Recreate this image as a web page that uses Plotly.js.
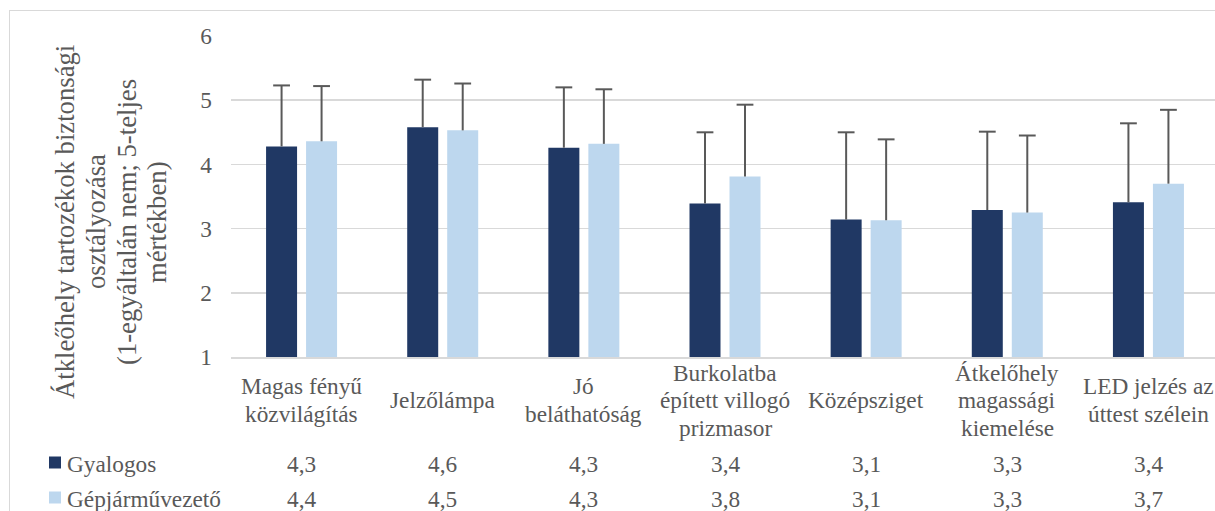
<!DOCTYPE html>
<html>
<head>
<meta charset="utf-8">
<script src="https://cdn.plot.ly/plotly-3.0.1.min.js"></script>
<style>
  html, body { margin: 0; padding: 0; overflow: hidden; background: #ffffff; }
  #chart { position: absolute; left: 0; top: 0; width: 1225px; height: 511px; }
  #frame { position: absolute; left: 9px; top: 10px; width: 3000px; height: 3000px;
           border-left: 1px solid #d9d9d9; border-top: 1px solid #d9d9d9; pointer-events: none; }
</style>
</head>
<body>
<div id="chart"></div>
<div id="frame"></div>
<script>
// ---- data ----
const categories = [
  'Magas fényű<br>közvilágítás',
  'Jelzőlámpa',
  'Jó<br>beláthatóság',
  'Burkolatba<br>épített villogó<br>prizmasor',
  'Középsziget',
  'Átkelőhely<br>magassági<br>kiemelése',
  'LED jelzés az<br>úttest szélein'
];
const seriesNames = ['Gyalogos', 'Gépjárművezető'];
const gyalogos    = [4.28, 4.58, 4.26, 3.39, 3.14, 3.29, 3.41];
const gepjarmu    = [4.36, 4.53, 4.32, 3.81, 3.13, 3.25, 3.70];
const gyalogosErr = [0.95, 0.74, 0.94, 1.11, 1.36, 1.22, 1.23];
const gepjarmuErr = [0.86, 0.73, 0.85, 1.12, 1.26, 1.20, 1.15];
const seriesColors = ['#203864', '#BDD7EE'];
const yTicks = [1, 2, 3, 4, 5, 6];
const yTitleLines = [
  'Átkleőhely tartozékok biztonsági',
  'osztályozása',
  '(1-egyáltalán nem; 5-teljes',
  'mértékben)'
];

// ---- layout helpers (pixel geometry) ----
const FIG_W = 1225, FIG_H = 511;
const M = { l: 231, r: 6, t: 36, b: 154 };
const PW = FIG_W - M.l - M.r, PH = FIG_H - M.t - M.b;
const px2x = px => (px - M.l) / PW;
const py2y = py => (M.t + PH - py) / PH;
const FONT = '"Liberation Serif", "Times New Roman", serif';
const TXT = '#595959';
const CAT_PX = PW / categories.length;      // pixels per category
const BAR_W = 31 / CAT_PX;                   // bar width in category units
const SHIFT = [-20 / CAT_PX, 20 / CAT_PX];   // bar centre offsets

const idx = categories.map((_, i) => i);
const values = [gyalogos, gepjarmu];
const errs = [gyalogosErr, gepjarmuErr];

const traces = [];
values.forEach((v, k) => {
  traces.push({
    type: 'bar',
    name: seriesNames[k],
    x: idx,
    y: v,
    width: BAR_W,
    offset: SHIFT[k] - BAR_W / 2,
    marker: { color: seriesColors[k], line: { width: 0 } },
    error_y: { type: 'data', symmetric: false, array: errs[k], arrayminus: v.map(() => 0),
               color: '#595959', thickness: 2, width: 0 },
    hoverinfo: 'y'
  });
});
// error-bar caps (top only)
values.forEach((v, k) => {
  traces.push({
    type: 'scatter', mode: 'markers', showlegend: false, hoverinfo: 'skip',
    x: idx.map(i => i + SHIFT[k]),
    y: v.map((val, i) => val + errs[k][i]),
    marker: { symbol: 'line-ew', size: 12, line: { width: 2, color: '#595959' } },
    cliponaxis: false
  });
});

const annotations = [];
// y-axis title (4 lines, rotated)
const titleCenters = [65, 96, 127, 157];
yTitleLines.forEach((line, j) => {
  annotations.push({
    xref: 'paper', yref: 'paper', x: px2x(titleCenters[j]), y: py2y(222),
    xanchor: 'center', yanchor: 'middle', textangle: -90, showarrow: false,
    text: line, font: { family: FONT, size: 26.7, color: TXT }
  });
});
// category labels (data-table header)
categories.forEach((c, i) => {
  const lines = c.split('<br>');
  const n = lines.length;
  lines.forEach((line, j) => {
    const py = 400 + (j - (n - 1) / 2) * 27.5;
    annotations.push({
      xref: 'x', yref: 'paper', x: i, y: py2y(py),
      xanchor: 'center', yanchor: 'middle', showarrow: false,
      text: line, font: { family: FONT, size: 23.3, color: TXT }
    });
  });
});
// data-table rows
const rowCenters = [464, 499];
const shapes = [];
values.forEach((v, k) => {
  annotations.push({
    xref: 'paper', yref: 'paper', x: px2x(65), y: py2y(rowCenters[k]),
    xanchor: 'left', yanchor: 'middle', showarrow: false,
    text: seriesNames[k], font: { family: FONT, size: 23.3, color: TXT }
  });
  shapes.push({
    type: 'rect', xref: 'paper', yref: 'paper',
    x0: px2x(49), x1: px2x(61), y0: py2y(rowCenters[k] - 1.5 + 6), y1: py2y(rowCenters[k] - 1.5 - 6),
    fillcolor: seriesColors[k], line: { width: 0 }
  });
  v.forEach((val, i) => {
    annotations.push({
      xref: 'x', yref: 'paper', x: i, y: py2y(rowCenters[k]),
      xanchor: 'center', yanchor: 'middle', showarrow: false,
      text: val.toFixed(1).replace('.', ','), font: { family: FONT, size: 23.3, color: TXT }
    });
  });
});

const layout = {
  width: FIG_W, height: FIG_H,
  margin: M,
  paper_bgcolor: '#ffffff', plot_bgcolor: '#ffffff',
  showlegend: false,
  barmode: 'overlay',
  font: { family: FONT, color: TXT },
  xaxis: {
    type: 'linear', range: [-0.5, categories.length - 0.5],
    showticklabels: false, showgrid: false, zeroline: false,
    showline: true, linecolor: '#d9d9d9', linewidth: 1.5, ticks: ''
  },
  yaxis: {
    range: [1, 6], tickvals: yTicks, ticktext: yTicks.map(String),
    showgrid: true, gridcolor: '#d9d9d9', gridwidth: 1.5, zeroline: false, showline: false,
    ticks: '', ticklabelstandoff: 18,
    tickfont: { family: FONT, size: 23.3, color: TXT }
  },
  annotations: annotations,
  shapes: shapes
};

Plotly.newPlot('chart', traces, layout, { staticPlot: true, displayModeBar: false });
</script>
</body>
</html>
